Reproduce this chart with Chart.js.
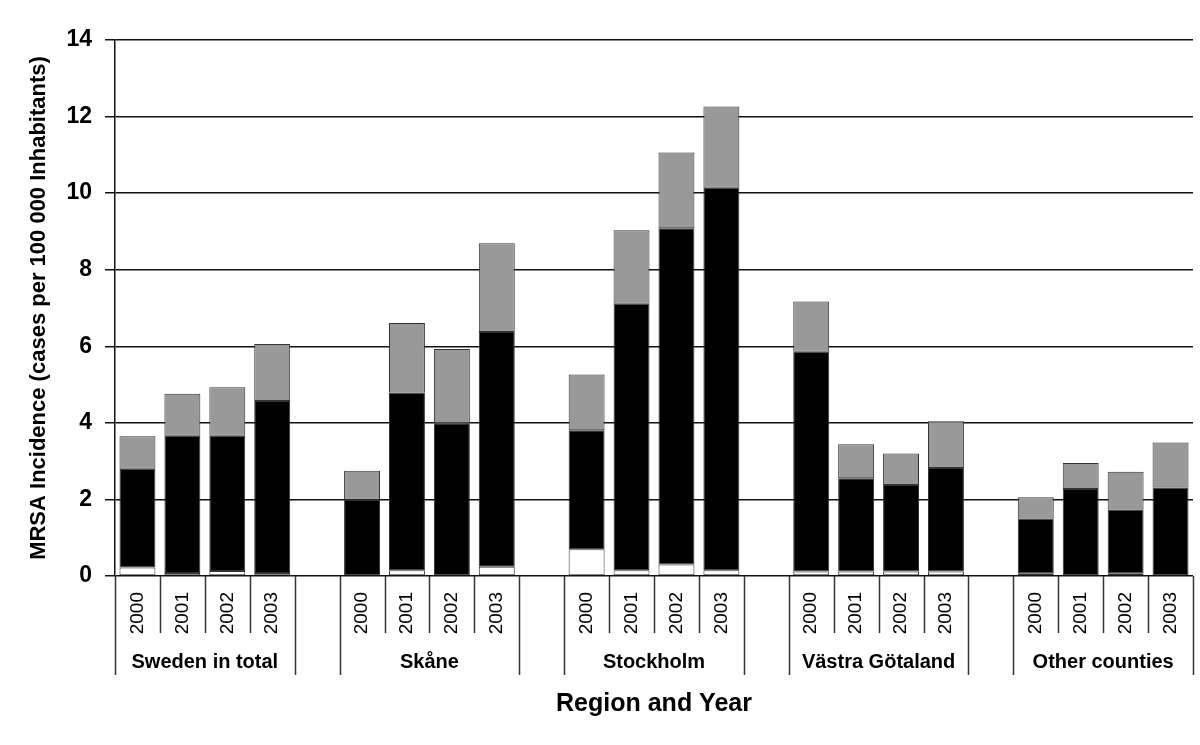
<!DOCTYPE html>
<html>
<head>
<meta charset="utf-8">
<script src="https://cdn.jsdelivr.net/npm/chart.js@4.4.1/dist/chart.umd.min.js"></script>
<style>
  html, body { margin: 0; padding: 0; background: #fff; }
  #wrap { width: 1200px; height: 745px; }
</style>
</head>
<body>
<div id="wrap"><canvas id="mrsaChart" width="1200" height="745"></canvas></div>
<script>
  const regions = ['Sweden in total', 'Skåne', 'Stockholm', 'Västra Götaland', 'Other counties'];
  const years = ['2000', '2001', '2002', '2003'];
  const yTicks = [0, 2, 4, 6, 8, 10, 12, 14];

  // segment values per region, 2000-2003 (bottom white, middle black, top grey)
  const whiteVals = [0.22, 0.08, 0.13, 0.08,  0, 0.15, 0, 0.24,  0.70, 0.15, 0.30, 0.15,  0.12, 0.12, 0.12, 0.12,  0.07, 0, 0.07, 0];
  const blackVals = [2.58, 3.58, 3.53, 4.49,  1.99, 4.64, 3.99, 6.13,  3.11, 6.96, 8.78, 9.99,  5.74, 2.43, 2.26, 2.70,  1.43, 2.27, 1.67, 2.31];
  const grayVals  = [0.85, 1.10, 1.27, 1.49,  0.76, 1.82, 1.94, 2.32,  1.45, 1.92, 1.98, 2.12,  1.31, 0.89, 0.82, 1.22,  0.56, 0.68, 0.98, 1.18];

  const FONT = "'Liberation Sans', Arial, sans-serif";

  // one empty slot between regions
  const labels = [];
  const slotIndex = [];
  regions.forEach((r, g) => {
    years.forEach((y, k) => { slotIndex.push(labels.length); labels.push(y); });
    if (g < regions.length - 1) labels.push('');
  });

  function padded(vals) {
    const out = labels.map(() => null);
    vals.forEach((v, i) => { out[slotIndex[i]] = v; });
    return out;
  }

  const groupBoxes = {
    id: 'groupBoxes',
    afterDraw(chart) {
      const x = chart.scales.x;
      const ctx = chart.ctx;
      const slotW = x.width / labels.length;
      const top = chart.chartArea.bottom;
      ctx.save();
      ctx.strokeStyle = '#333';
      ctx.lineWidth = 1.5;
      regions.forEach((name, g) => {
        const first = slotIndex[g * years.length];
        for (let k = 0; k <= years.length; k++) {
          const px = Math.round(x.getPixelForValue(first + k) - slotW / 2) + 0.5;
          const long = (k === 0 || k === years.length);
          ctx.beginPath();
          ctx.moveTo(px, top);
          ctx.lineTo(px, long ? 675 : 633);
          ctx.stroke();
        }
        const cx = (x.getPixelForValue(first) + x.getPixelForValue(first + years.length - 1)) / 2;
        ctx.fillStyle = '#000';
        ctx.font = 'bold 20px ' + FONT;
        ctx.textAlign = 'center';
        ctx.textBaseline = 'middle';
        ctx.fillText(name, cx, 662);
      });
      ctx.restore();
    }
  };

  const ctx = document.getElementById('mrsaChart').getContext('2d');
  const mrsaChart = new Chart(ctx, {
    type: 'bar',
    data: {
      labels: labels,
      datasets: [
        { label: 'white', data: padded(whiteVals), backgroundColor: '#ffffff' },
        { label: 'black', data: padded(blackVals), backgroundColor: '#000000' },
        { label: 'grey',  data: padded(grayVals),  backgroundColor: '#999999' }
      ]
    },
    options: {
      responsive: false,
      animation: false,
      layout: { padding: { left: 0, right: 7, top: 40, bottom: 0 } },
      datasets: {
        bar: {
          barPercentage: 0.8,
          categoryPercentage: 1.0,
          borderColor: '#333333',
          borderWidth: 1,
          borderSkipped: false
        }
      },
      plugins: {
        legend: { display: false },
        tooltip: { enabled: false }
      },
      scales: {
        x: {
          stacked: true,
          afterFit(scale) {
            scale.height = 169;
            scale.paddingLeft = 0;
            scale.paddingRight = 0;
          },
          grid: { display: false, drawTicks: false },
          border: { display: false },
          ticks: {
            autoSkip: false,
            minRotation: 90,
            maxRotation: 90,
            padding: 16,
            color: '#000',
            font: { family: FONT, size: 19 }
          },
          title: {
            display: true,
            text: 'Region and Year',
            color: '#000',
            font: { family: FONT, size: 25, weight: 'bold' },
            padding: { top: 0, bottom: 26 }
          }
        },
        y: {
          stacked: true,
          min: 0,
          max: 14,
          afterFit(scale) { scale.width = 115; },
          afterBuildTicks(scale) { scale.ticks = yTicks.map(v => ({ value: v })); },
          grid: { color: '#111', lineWidth: 1.5, tickLength: 10, drawTicks: true },
          border: { display: true, color: '#111', width: 1.5 },
          ticks: {
            padding: 13,
            color: '#000',
            font: { family: FONT, size: 23, weight: 'bold' }
          },
          title: {
            display: true,
            text: 'MRSA Incidence (cases per 100 000 Inhabitants)',
            color: '#000',
            font: { family: FONT, size: 22, weight: 'bold' },
            padding: { top: 26, bottom: 0 }
          }
        }
      }
    },
    plugins: [groupBoxes]
  });
</script>
</body>
</html>
